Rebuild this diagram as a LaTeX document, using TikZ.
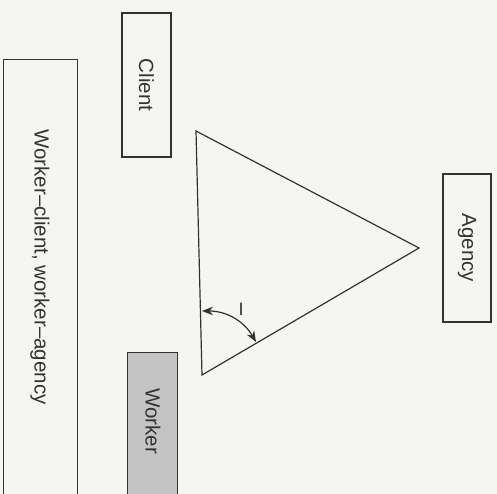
\documentclass[tikz,border=0pt]{standalone}
\usepackage{fontspec}
\setmainfont{Liberation Sans}
\usetikzlibrary{arrows.meta}
\definecolor{paper}{RGB}{245,245,242}
\definecolor{ink}{RGB}{50,50,50}
\definecolor{shade}{RGB}{196,196,196}
\tikzset{
  box/.style={draw=ink, line width=1.2pt, inner sep=0pt},
  lbl/.style={text=ink, font=\fontsize{20.5}{24}\selectfont, rotate=-90, inner sep=0pt},
  edge/.style={draw=ink, line width=1.2pt},
  tip/.style={Stealth[length=11pt,width=8.5pt]},
}
\begin{document}
\begin{tikzpicture}[x=1pt,y=-1pt]
\fill[paper] (0,0) rectangle (497,494);
\useasboundingbox (0,0) rectangle (497,494);
\clip (0,0) rectangle (497,494);
% outer box
\node[box, anchor=north west, minimum width=74pt, minimum height=470pt] (outer) at (3,59) {};
\node[lbl] (outertext) at (40,267) {Worker–client, worker–agency};
% client
\node[box, lbl, minimum width=144pt, minimum height=49pt] (client) at (146.5,85) {Client};
% agency
\node[box, lbl, minimum width=148pt, minimum height=48pt] (agency) at (467,248) {Agency};
% worker
\node[box, fill=shade, anchor=north west, minimum width=50pt, minimum height=170pt] (worker) at (127,352) {};
\node[lbl] (workertext) at (153,421) {Worker};
% triangle
\coordinate (A) at (196,131);
\coordinate (B) at (419,248);
\coordinate (C) at (202,375);
\draw[edge, line join=miter] (A) -- (B) -- (C) -- cycle;
% angle arc
\coordinate (p1) at (202,311);
\coordinate (p2) at (256,342);
\draw[edge, {Stealth[length=11pt,width=8.5pt]}-{Stealth[length=11pt,width=8.5pt]}] (p1) to[bend left=30] (p2);
\node[text=ink, font=\fontsize{18}{20}\selectfont, inner sep=0pt] (ang) at (241,309) {I};
\end{tikzpicture}
\end{document}
